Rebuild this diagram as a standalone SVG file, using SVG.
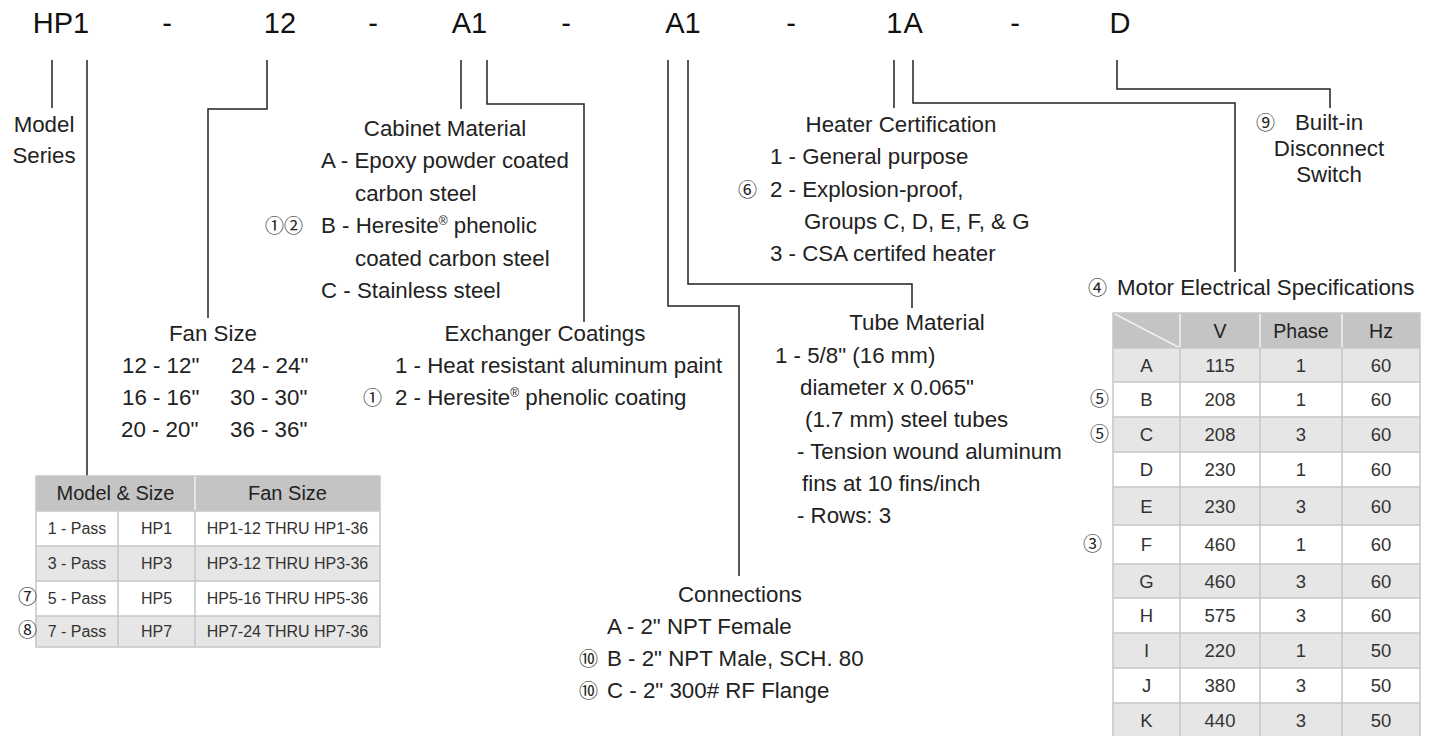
<svg xmlns="http://www.w3.org/2000/svg" width="1438" height="736" viewBox="0 0 1438 736">
<style>
.t{font-family:"Liberation Sans",Arial,Helvetica,sans-serif;font-size:22.3px;fill:#222}
.h{font-size:29px;fill:#111}
.m{text-anchor:middle}
.c{font-family:"Noto Sans CJK JP","DejaVu Sans",sans-serif;font-size:19px;fill:#222}
.cell{font-size:16px;fill:#333}
.th{font-size:20px;fill:#222}
.mc{font-size:18.5px;fill:#333}
.mh{font-size:19.5px;fill:#222}
.conn{fill:none;stroke:#222;stroke-width:1.5}
.grid{stroke:#c6c6c6;stroke-width:1.5;fill:none}
.hd{fill:#c4c4c4}
.g1{fill:#e6e6e6}
.w{fill:#fff}
.sep{stroke:#f2f2f2;stroke-width:1.5}
</style>

<g id="code">
<text class="t h m" x="61" y="33">HP1</text>
<text class="t h m" x="167" y="33">-</text>
<text class="t h m" x="280" y="33">12</text>
<text class="t h m" x="373" y="33">-</text>
<text class="t h m" x="469.5" y="33">A1</text>
<text class="t h m" x="566" y="33">-</text>
<text class="t h m" x="683" y="33">A1</text>
<text class="t h m" x="791" y="33">-</text>
<text class="t h m" x="905" y="33" letter-spacing="1">1A</text>
<text class="t h m" x="1015" y="33">-</text>
<text class="t h m" x="1120" y="33">D</text>
</g>

<g id="connectors">
<path class="conn" d="M52,60V108"/>
<path class="conn" d="M87,60V476"/>
<path class="conn" d="M267,60V109H208V318"/>
<path class="conn" d="M461,60V109"/>
<path class="conn" d="M487,60V104H584V322"/>
<path class="conn" d="M668,60V306H739V576"/>
<path class="conn" d="M688,60V284H912V308"/>
<path class="conn" d="M894,60V108"/>
<path class="conn" d="M913,60V103H1235V272"/>
<path class="conn" d="M1117,60V89H1330V108"/>
</g>

<g id="model-series">
<text class="t m" x="44" y="132">Model</text>
<text class="t m" x="44" y="163">Series</text>
</g>

<g id="cabinet-material">
<text class="t m" x="445" y="136">Cabinet Material</text>
<text class="t" x="321" y="168">A - Epoxy powder coated</text>
<text class="t" x="355" y="201">carbon steel</text>
<text class="c" x="265" y="233">①②</text>
<text class="t" x="321" y="233">B - Heresite<tspan font-size="12" dy="-8">®</tspan><tspan dy="8"> phenolic</tspan></text>
<text class="t" x="355" y="266">coated carbon steel</text>
<text class="t" x="321" y="298">C - Stainless steel</text>
</g>

<g id="fan-size">
<text class="t m" x="213" y="341">Fan Size</text>
<text class="t" x="122" y="373">12 - 12"</text>
<text class="t" x="231" y="373">24 - 24"</text>
<text class="t" x="122" y="405">16 - 16"</text>
<text class="t" x="230" y="405">30 - 30"</text>
<text class="t" x="121" y="437">20 - 20"</text>
<text class="t" x="230" y="437">36 - 36"</text>
</g>

<g id="exchanger-coatings">
<text class="t m" x="545" y="341">Exchanger Coatings</text>
<text class="t" x="395" y="373">1 - Heat resistant aluminum paint</text>
<text class="c" x="363" y="405">①</text>
<text class="t" x="395" y="405">2 - Heresite<tspan font-size="12" dy="-8">®</tspan><tspan dy="8"> phenolic coating</tspan></text>
</g>

<g id="heater-certification">
<text class="t m" x="901" y="132">Heater Certification</text>
<text class="t" x="770" y="164">1 - General purpose</text>
<text class="c" x="738" y="197">⑥</text>
<text class="t" x="770" y="197">2 - Explosion-proof,</text>
<text class="t" x="804" y="229">Groups C, D, E, F, &amp; G</text>
<text class="t" x="770" y="261">3 - CSA certifed heater</text>
</g>

<g id="tube-material">
<text class="t m" x="917" y="330">Tube Material</text>
<text class="t" x="775" y="363">1 - 5/8" (16 mm)</text>
<text class="t" x="800" y="395">diameter x 0.065"</text>
<text class="t" x="805" y="427">(1.7 mm) steel tubes</text>
<text class="t" x="797" y="459">- Tension wound aluminum</text>
<text class="t" x="802" y="491">fins at 10 fins/inch</text>
<text class="t" x="797" y="523">- Rows: 3</text>
</g>

<g id="connections">
<text class="t m" x="740" y="602">Connections</text>
<text class="t" x="607" y="634">A - 2" NPT Female</text>
<text class="c" x="579" y="666">⑩</text>
<text class="t" x="607" y="666">B - 2" NPT Male, SCH. 80</text>
<text class="c" x="579" y="698">⑩</text>
<text class="t" x="607" y="698">C - 2" 300# RF Flange</text>
</g>

<g id="disconnect-switch">
<text class="c" x="1256" y="130">⑨</text>
<text class="t m" x="1329" y="130">Built-in</text>
<text class="t m" x="1329" y="156">Disconnect</text>
<text class="t m" x="1329" y="182">Switch</text>
</g>

<g id="model-size-table">
<rect class="hd" x="36" y="476" width="344" height="35"/>
<rect class="w" x="36" y="511" width="344" height="35"/>
<rect class="g1" x="36" y="546" width="344" height="35"/>
<rect class="w" x="36" y="581" width="344" height="35"/>
<rect class="g1" x="36" y="616" width="344" height="31"/>
<line class="sep" x1="195" y1="476" x2="195" y2="511"/>
<path class="grid" d="M36,511H380M36,546H380M36,581H380M36,616H380M118,511V647M195,511V647"/>
<rect class="grid" x="36" y="476" width="344" height="171"/>
<text class="t th m" x="115.5" y="500">Model &amp; Size</text>
<text class="t th m" x="287.5" y="500">Fan Size</text>
<text class="t cell m" x="77" y="534">1 - Pass</text>
<text class="t cell m" x="156.5" y="534">HP1</text>
<text class="t cell m" x="287.5" y="534">HP1-12 THRU HP1-36</text>
<text class="t cell m" x="77" y="569">3 - Pass</text>
<text class="t cell m" x="156.5" y="569">HP3</text>
<text class="t cell m" x="287.5" y="569">HP3-12 THRU HP3-36</text>
<text class="t cell m" x="77" y="604">5 - Pass</text>
<text class="t cell m" x="156.5" y="604">HP5</text>
<text class="t cell m" x="287.5" y="604">HP5-16 THRU HP5-36</text>
<text class="t cell m" x="77" y="637">7 - Pass</text>
<text class="t cell m" x="156.5" y="637">HP7</text>
<text class="t cell m" x="287.5" y="637">HP7-24 THRU HP7-36</text>
<text class="c" x="18" y="604">⑦</text>
<text class="c" x="18" y="637">⑧</text>
</g>

<g id="motor-specs">
<text class="c" x="1088" y="295">④</text>
<text class="t" x="1117" y="295" font-size="22.7">Motor Electrical Specifications</text>
<rect class="hd" x="1113" y="313" width="307" height="35"/>
<rect class="g1" x="1113" y="348" width="307" height="34"/>
<rect class="w" x="1113" y="382" width="307" height="35"/>
<rect class="g1" x="1113" y="417" width="307" height="35"/>
<rect class="w" x="1113" y="452" width="307" height="35"/>
<rect class="g1" x="1113" y="487" width="307" height="38"/>
<rect class="w" x="1113" y="525" width="307" height="39"/>
<rect class="g1" x="1113" y="564" width="307" height="34"/>
<rect class="w" x="1113" y="598" width="307" height="35"/>
<rect class="g1" x="1113" y="633" width="307" height="35"/>
<rect class="w" x="1113" y="668" width="307" height="35"/>
<rect class="g1" x="1113" y="703" width="307" height="35"/>
<path class="sep" d="M1113,313L1180,348M1180,313V348M1260,313V348M1342,313V348"/>
<path class="grid" d="M1113,348H1420M1113,382H1420M1113,417H1420M1113,452H1420M1113,487H1420M1113,525H1420M1113,564H1420M1113,598H1420M1113,633H1420M1113,668H1420M1113,703H1420M1180,348V738M1260,348V738M1342,348V738"/>
<rect class="grid" x="1113" y="313" width="307" height="425"/>
<text class="t mh m" x="1220" y="338">V</text>
<text class="t mh m" x="1301" y="338">Phase</text>
<text class="t mh m" x="1381" y="338">Hz</text>
<g class="rows">
<text class="t mc m" x="1146.5" y="372">A</text><text class="t mc m" x="1220" y="372">115</text><text class="t mc m" x="1301" y="372">1</text><text class="t mc m" x="1381" y="372">60</text>
<text class="t mc m" x="1146.5" y="406">B</text><text class="t mc m" x="1220" y="406">208</text><text class="t mc m" x="1301" y="406">1</text><text class="t mc m" x="1381" y="406">60</text>
<text class="t mc m" x="1146.5" y="441">C</text><text class="t mc m" x="1220" y="441">208</text><text class="t mc m" x="1301" y="441">3</text><text class="t mc m" x="1381" y="441">60</text>
<text class="t mc m" x="1146.5" y="476">D</text><text class="t mc m" x="1220" y="476">230</text><text class="t mc m" x="1301" y="476">1</text><text class="t mc m" x="1381" y="476">60</text>
<text class="t mc m" x="1146.5" y="513">E</text><text class="t mc m" x="1220" y="513">230</text><text class="t mc m" x="1301" y="513">3</text><text class="t mc m" x="1381" y="513">60</text>
<text class="t mc m" x="1146.5" y="551">F</text><text class="t mc m" x="1220" y="551">460</text><text class="t mc m" x="1301" y="551">1</text><text class="t mc m" x="1381" y="551">60</text>
<text class="t mc m" x="1146.5" y="588">G</text><text class="t mc m" x="1220" y="588">460</text><text class="t mc m" x="1301" y="588">3</text><text class="t mc m" x="1381" y="588">60</text>
<text class="t mc m" x="1146.5" y="622">H</text><text class="t mc m" x="1220" y="622">575</text><text class="t mc m" x="1301" y="622">3</text><text class="t mc m" x="1381" y="622">60</text>
<text class="t mc m" x="1146.5" y="657">I</text><text class="t mc m" x="1220" y="657">220</text><text class="t mc m" x="1301" y="657">1</text><text class="t mc m" x="1381" y="657">50</text>
<text class="t mc m" x="1146.5" y="692">J</text><text class="t mc m" x="1220" y="692">380</text><text class="t mc m" x="1301" y="692">3</text><text class="t mc m" x="1381" y="692">50</text>
<text class="t mc m" x="1146.5" y="727">K</text><text class="t mc m" x="1220" y="727">440</text><text class="t mc m" x="1301" y="727">3</text><text class="t mc m" x="1381" y="727">50</text>
</g>
<text class="c" x="1090" y="406">⑤</text>
<text class="c" x="1090" y="441">⑤</text>
<text class="c" x="1083" y="551">③</text>
</g>
</svg>
